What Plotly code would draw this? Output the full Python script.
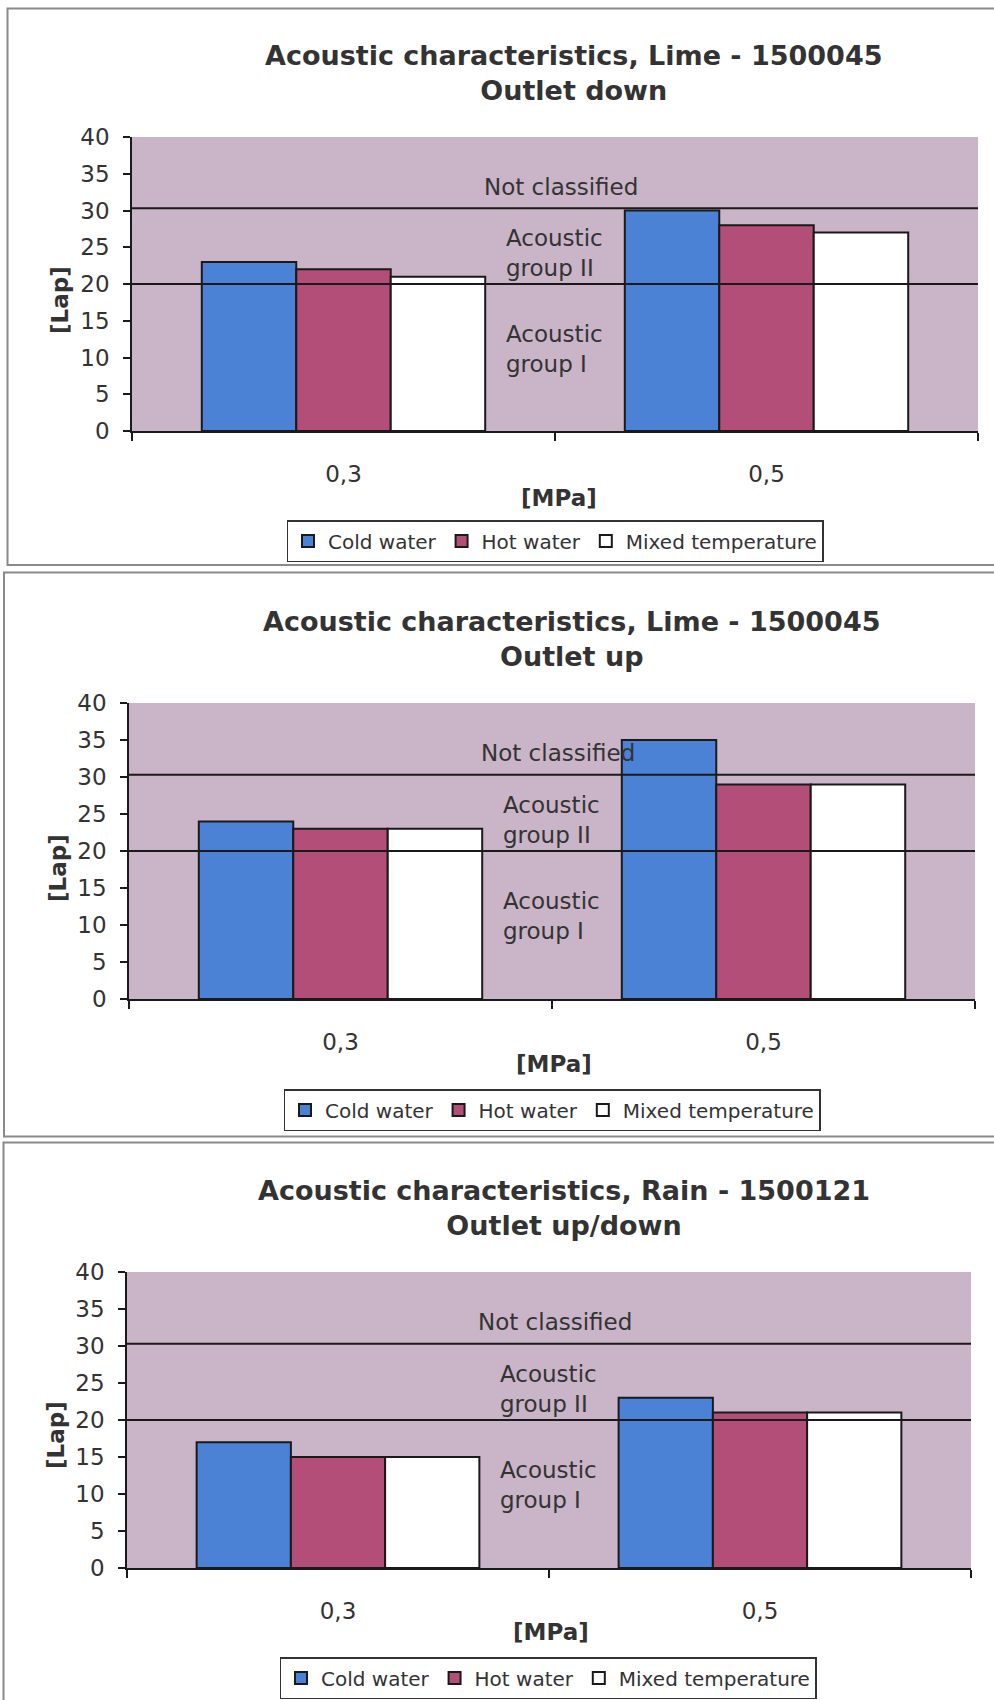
import plotly.graph_objects as go

# ---------------- data ----------------
categories = ["0,3", "0,5"]
series_names = ["Cold water", "Hot water", "Mixed temperature"]

lime_down_cold = [23, 30]
lime_down_hot = [22, 28]
lime_down_mixed = [21, 27]

lime_up_cold = [24, 35]
lime_up_hot = [23, 29]
lime_up_mixed = [23, 29]

rain_cold = [17, 23]
rain_hot = [15, 21]
rain_mixed = [15, 21]

class_limits = [20, 30.3]
y_ticks = [0, 5, 10, 15, 20, 25, 30, 35, 40]

titles = [
    "Acoustic characteristics, Lime - 1500045<br>Outlet down",
    "Acoustic characteristics, Lime - 1500045<br>Outlet up",
    "Acoustic characteristics, Rain - 1500121<br>Outlet up/down",
]
zone_labels = ["Not classified", "Acoustic<br>group II", "Acoustic<br>group I"]
zone_label_y = [33.2, 24.2, 11.2]

panel_values = [
    [lime_down_cold, lime_down_hot, lime_down_mixed],
    [lime_up_cold, lime_up_hot, lime_up_mixed],
    [rain_cold, rain_hot, rain_mixed],
]

# ---------------- style / geometry ----------------
W, H = 994, 1700
colors = ["#4C82D6", "#B24E78", "#FFFFFF"]
TXT = "#333333"
FONT = "DejaVu Sans"

# plot area in pixels: (x0, x1, ytop, ybottom)
plot_px = [(132, 978, 137, 431), (129, 975, 703, 999), (127, 971, 1272, 1568)]
title_px = [(573, 73), (571, 639), (564, 1208)]
ytitle_px = [(60, 300), (58, 868), (56, 1435)]
xtitle_px = [(559, 498), (554, 1064), (551, 1632)]
legend_px = [(555, 541), (552, 1110), (548, 1678)]
panel_box_px = [(7.5, 8.5, 1000, 565), (4, 572.5, 1000, 1136.5), (3.5, 1142.5, 1000, 1720)]


def px(x):
    return x / W


def py(y):
    return 1 - y / H


fig = go.Figure()
layout = dict(
    width=W, height=H, autosize=False,
    margin=dict(l=0, r=0, t=0, b=0, pad=0, autoexpand=False),
    paper_bgcolor="white", plot_bgcolor="#C9B5C7",
    barmode="group", bargap=0.33, bargroupgap=0,
    font=dict(family=FONT, color=TXT, size=22),
    annotations=[], shapes=[],
)

for i in range(3):
    n = "" if i == 0 else str(i + 1)
    xa, ya = "x" + n, "y" + n
    lg = "legend" + n
    x0, x1, yt, yb = plot_px[i]
    for s in range(3):
        fig.add_trace(go.Bar(
            x=categories, y=panel_values[i][s], name=series_names[s],
            marker=dict(color=colors[s], line=dict(color="#1a1a1a", width=2)),
            xaxis=xa, yaxis=ya, legend=lg, showlegend=True,
            hoverinfo="skip",
        ))
    layout["xaxis" + n] = dict(
        domain=[px(x0), px(x1)], anchor=ya, type="category",
        categoryorder="array", categoryarray=categories,
        showline=True, linecolor="#1a1a1a", linewidth=1.5,
        ticks="outside", tickson="boundaries", ticklen=8, tickcolor="#1a1a1a", tickwidth=1.5,
        showgrid=False, tickfont=dict(size=23, color=TXT), ticklabelstandoff=22,
        fixedrange=True, automargin=False,
    )
    layout["yaxis" + n] = dict(
        domain=[py(yb), py(yt)], anchor=xa, range=[0, 40],
        tickmode="array", tickvals=y_ticks,
        showline=True, linecolor="#1a1a1a", linewidth=1.5,
        ticks="outside", ticklen=7, tickcolor="#1a1a1a", tickwidth=1.5,
        showgrid=False, zeroline=False, tickfont=dict(size=23, color=TXT),
        ticklabelstandoff=9, fixedrange=True, automargin=False,
    )
    lx, ly = legend_px[i]
    layout[lg] = dict(
        orientation="h", x=px(lx), y=py(ly), xanchor="center", yanchor="middle",
        bgcolor="white", bordercolor="#333333", borderwidth=1.5,
        font=dict(size=20, color=TXT), itemwidth=30, tracegroupgap=0,
        itemclick=False, itemdoubleclick=False,
    )
    # class limit lines
    for lim in class_limits:
        layout["shapes"].append(dict(
            type="line", xref=xa + " domain", yref=ya, x0=0, x1=1, y0=lim, y1=lim,
            line=dict(color="#1a1a1a", width=2), layer="above",
        ))
    # zone labels
    layout["annotations"].append(dict(
        xref=xa + " domain", yref=ya, x=0.507, y=zone_label_y[0], text=zone_labels[0],
        showarrow=False, xanchor="center", yanchor="middle", font=dict(size=23, color=TXT),
    ))
    for k in (1, 2):
        layout["annotations"].append(dict(
            xref=xa + " domain", yref=ya, x=0.44, y=zone_label_y[k], text=zone_labels[k],
            showarrow=False, xanchor="left", yanchor="middle", align="left",
            font=dict(size=23, color=TXT),
        ))
    # title
    tx, ty = title_px[i]
    layout["annotations"].append(dict(
        xref="paper", yref="paper", x=px(tx), y=py(ty), text="<b>" + titles[i] + "</b>",
        showarrow=False, xanchor="center", yanchor="middle", align="center",
        font=dict(size=27, color=TXT, family=FONT),
    ))
    # axis titles
    yx, yy = ytitle_px[i]
    layout["annotations"].append(dict(
        xref="paper", yref="paper", x=px(yx), y=py(yy), text="<b>[Lap]</b>",
        showarrow=False, textangle=-90, xanchor="center", yanchor="middle",
        font=dict(size=23, color=TXT),
    ))
    mx, my = xtitle_px[i]
    layout["annotations"].append(dict(
        xref="paper", yref="paper", x=px(mx), y=py(my), text="<b>[MPa]</b>",
        showarrow=False, xanchor="center", yanchor="middle",
        font=dict(size=23, color=TXT),
    ))
    # panel frame
    bx0, by0, bx1, by1 = panel_box_px[i]
    layout["shapes"].append(dict(
        type="rect", xref="paper", yref="paper",
        x0=px(bx0), x1=px(bx1), y0=py(by1), y1=py(by0),
        line=dict(color="#8a8a8a", width=2), fillcolor="rgba(0,0,0,0)", layer="below",
    ))

fig.update_layout(**layout)
fig.write_html("out.html", config={"displayModeBar": False})
